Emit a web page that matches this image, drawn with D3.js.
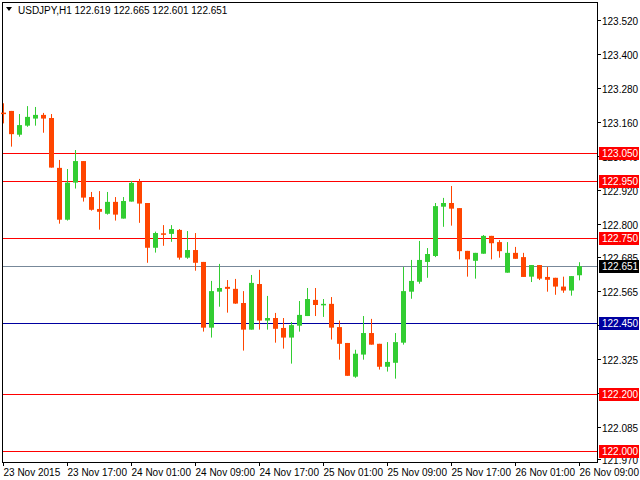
<!DOCTYPE html>
<html><head><meta charset="utf-8">
<script src="https://cdn.jsdelivr.net/npm/d3@7"></script>
<style>body{margin:0;background:#fff}svg{display:block;font-family:"Liberation Sans",Arial,sans-serif}</style>
</head><body>
<svg id="chart"></svg>
<script>
const width = 640, height = 480
const plotLeft = 2, plotRight = 597, plotTop = 2, plotBottom = 462

// hourly OHLC, 23 Nov 2015 09:00 onward
const opens = [123.193,123.199,123.115,123.147,123.172,123.185,123.174,122.998,122.815,122.946,123.022,122.895,122.853,122.836,122.878,122.819,122.879,122.948,122.874,122.716,122.767,122.765,122.779,122.681,122.708,122.666,122.434,122.561,122.578,122.571,122.521,122.427,122.588,122.459,122.468,122.433,122.399,122.441,122.475,122.532,122.518,122.518,122.436,122.380,122.261,122.339,122.415,122.377,122.296,122.310,122.381,122.561,122.596,122.666,122.687,122.861,122.874,122.856,122.705,122.670,122.695,122.758,122.736,122.628,122.698,122.683,122.614,122.655,122.613,122.610,122.579,122.565,122.619]
const highs = [123.226,123.199,123.188,123.216,123.213,123.192,123.188,123.026,122.994,123.061,123.022,122.913,122.916,122.913,122.895,122.895,122.952,122.959,122.874,122.773,122.796,122.796,122.782,122.775,122.768,122.666,122.599,122.659,122.602,122.606,122.563,122.620,122.638,122.546,122.486,122.468,122.454,122.528,122.574,122.574,122.535,122.542,122.459,122.380,122.356,122.475,122.465,122.377,122.383,122.415,122.648,122.673,122.740,122.715,122.874,122.892,122.934,122.856,122.705,122.698,122.761,122.758,122.743,122.736,122.719,122.698,122.655,122.655,122.648,122.610,122.614,122.616,122.665]
const lows = [123.155,123.073,123.108,123.143,123.147,123.122,122.999,122.801,122.812,122.925,122.879,122.847,122.780,122.833,122.812,122.819,122.879,122.804,122.663,122.699,122.723,122.737,122.674,122.677,122.635,122.420,122.399,122.508,122.487,122.518,122.353,122.427,122.427,122.427,122.381,122.360,122.307,122.420,122.475,122.475,122.472,122.392,122.321,122.264,122.257,122.321,122.374,122.286,122.279,122.254,122.374,122.536,122.589,122.610,122.683,122.790,122.794,122.675,122.614,122.607,122.695,122.675,122.681,122.628,122.677,122.613,122.595,122.602,122.561,122.550,122.557,122.547,122.601]
const closes = [123.191,123.117,123.149,123.178,123.185,123.172,122.999,122.815,122.946,123.022,122.893,122.850,122.843,122.878,122.833,122.881,122.945,122.872,122.716,122.768,122.765,122.782,122.681,122.708,122.663,122.434,122.563,122.574,122.571,122.519,122.427,122.592,122.459,122.468,122.430,122.399,122.443,122.479,122.535,122.514,122.518,122.434,122.377,122.264,122.342,122.415,122.374,122.296,122.313,122.383,122.563,122.599,122.673,122.694,122.863,122.874,122.854,122.704,122.675,122.698,122.758,122.732,122.704,122.698,122.677,122.613,122.655,122.607,122.603,122.579,122.565,122.616,122.651]

const priceTicks = [123.520,123.400,123.280,123.160,123.040,122.920,122.800,122.685,122.565,122.445,122.325,122.205,122.085,121.970]
const timeTickBars = [0,8,16,24,32,40,48,56,64,72]
const timeTickLabels = ['23 Nov 2015','23 Nov 17:00','24 Nov 01:00','24 Nov 09:00','24 Nov 17:00','25 Nov 01:00','25 Nov 09:00','25 Nov 17:00','26 Nov 01:00','26 Nov 09:00']
const levels = [123.050,122.950,122.750,122.450,122.200,122.000]
const levelColors = ['#ff0000','#ff0000','#ff0000','#0000a0','#ff0000','#ff0000']
const bid = 122.651

const fs = 10
const svg = d3.select('svg#chart').attr('width', width).attr('height', height)

const y = d3.scaleLinear().domain([121.9598, 123.5835]).range([plotBottom, plotTop])
const x = d3.scaleLinear().domain([0, 1]).range([3, 11])

// frame
svg.append('rect').attr('x', plotLeft + 0.5).attr('y', plotTop + 0.5)
    .attr('width', plotRight - plotLeft).attr('height', plotBottom - plotTop)
    .attr('fill', 'none').attr('stroke', '#000')

// level lines
svg.selectAll('line.level').data(levels).enter().append('line')
    .attr('x1', plotLeft + 1).attr('x2', plotRight)
    .attr('y1', d => Math.round(y(d)) + 0.5).attr('y2', d => Math.round(y(d)) + 0.5)
    .attr('stroke', (d, i) => levelColors[i])
svg.append('line').attr('x1', plotLeft + 1).attr('x2', plotRight)
    .attr('y1', Math.round(y(bid)) + 0.5).attr('y2', Math.round(y(bid)) + 0.5)
    .attr('stroke', '#778899')

// candles
const idx = d3.range(opens.length)
const col = i => closes[i] >= opens[i] ? '#32cd32' : '#ff4500'
svg.selectAll('line.wick').data(idx).enter().append('line')
    .attr('x1', i => Math.round(x(i)) + 0.5).attr('x2', i => Math.round(x(i)) + 0.5)
    .attr('y1', i => y(highs[i])).attr('y2', i => y(lows[i]))
    .attr('stroke', col)
svg.selectAll('rect.body').data(idx).enter().append('rect')
    .attr('x', i => Math.round(x(i)) - 2)
    .attr('width', 5)
    .attr('y', i => y(Math.max(opens[i], closes[i])))
    .attr('height', i => Math.max(1.5, Math.abs(y(opens[i]) - y(closes[i]))))
    .attr('fill', col)

// right axis
const ra = svg.append('g')
priceTicks.forEach(p => {
    const yy = Math.round(y(p)) + 0.5
    ra.append('line').attr('x1', plotRight).attr('x2', plotRight + 4).attr('y1', yy).attr('y2', yy).attr('stroke', '#000')
    ra.append('text').attr('x', plotRight + 5).attr('y', yy + 4).attr('font-size', fs).attr('fill', '#000').text(p.toFixed(3))
})
const boxes = levels.map((d, i) => ({ v: d, c: levelColors[i] })).concat([{ v: bid, c: '#000' }])
boxes.forEach(b => {
    const yy = Math.round(y(b.v))
    ra.append('rect').attr('x', plotRight + 2).attr('y', yy - 6).attr('width', 40).attr('height', 13).attr('fill', b.c)
    ra.append('text').attr('x', plotRight + 5).attr('y', yy + 4).attr('font-size', fs).attr('fill', '#fff').text(b.v.toFixed(3))
})

// bottom axis
timeTickBars.forEach((b, i) => {
    const xx = Math.round(x(b)) + 0.5
    svg.append('line').attr('x1', xx).attr('x2', xx).attr('y1', plotBottom).attr('y2', plotBottom + 4).attr('stroke', '#000')
    svg.append('text').attr('x', xx).attr('y', plotBottom + 14).attr('font-size', fs).text(timeTickLabels[i])
})

// header
svg.append('path').attr('d', 'M6,7 L12,7 L9,11 Z').attr('fill', '#000')
svg.append('text').attr('x', 18).attr('y', 14).attr('font-size', fs).attr('fill', '#000')
    .text('USDJPY,H1  ' + [opens, highs, lows, closes].map(a => a[a.length - 1].toFixed(3)).join(' '))
</script>
</body></html>
